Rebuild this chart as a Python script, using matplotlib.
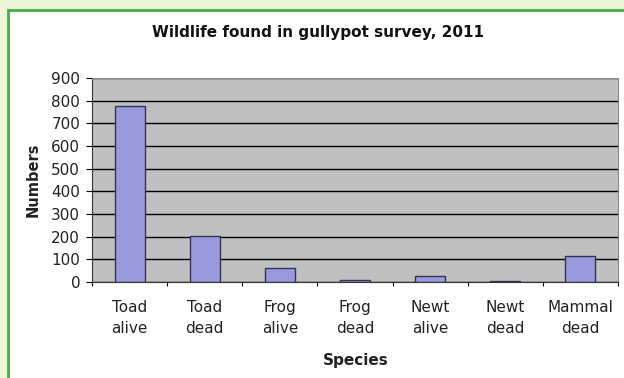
import matplotlib.pyplot as plt
from matplotlib.patches import Rectangle
import numpy as np

plt.rcParams['font.family'] = ['DejaVu Sans']

species = ["Toad\nalive", "Toad\ndead", "Frog\nalive", "Frog\ndead",
           "Newt\nalive", "Newt\ndead", "Mammal\ndead"]
numbers = [775, 205, 60, 8, 28, 3, 115]

fig = plt.figure(figsize=(6.24, 3.78), dpi=100)
fig.patch.set_facecolor("#eef4d6")

# white panel with green border, behind the axes
panel = Rectangle((8 / 624, -0.05), 1.0, 1 - 10 / 378 + 0.05, transform=fig.transFigure,
                  facecolor="white", edgecolor="#4aaa48", linewidth=2, zorder=-5)
fig.patches.append(panel)

ax = fig.add_axes([92 / 624, 1 - 282 / 378, (618 - 92) / 624, (282 - 78) / 378])
ax.set_facecolor("#c0c0c0")

x = np.arange(len(species))
ax.bar(x, numbers, width=0.4, color="#9999dd", edgecolor="#333355", linewidth=1, zorder=3)

ax.set_xlim(-0.5, len(species) - 0.5)
ax.set_ylim(0, 900)
ax.set_yticks(range(0, 901, 100))
ax.yaxis.grid(True, color="black", linewidth=1)
ax.set_axisbelow(True)

ax.set_xticks(np.arange(-0.5, len(species), 1))
ax.set_xticklabels([])
ax.set_xticks(x, minor=True)
ax.set_xticklabels(species, minor=True, fontsize=11, color="#222222", linespacing=1.5)
ax.tick_params(axis="x", which="minor", length=0, pad=13)
ax.tick_params(axis="x", which="major", length=3, direction="out")
ax.tick_params(axis="y", labelsize=11, length=4.5, pad=4, labelcolor="#222222")

for s in ["top", "right"]:
    ax.spines[s].set_color("#888888")
for s in ["left", "bottom"]:
    ax.spines[s].set_color("#333333")

fig.text(356 / 624, 1 - 360 / 378, "Species", ha="center", va="center",
         fontsize=11, fontweight="bold", color="#222222")
fig.text(33 / 624, 1 - 180 / 378, "Numbers", ha="center", va="center", rotation=90,
         fontsize=10.5, fontweight="bold", color="#222222")
fig.text(318 / 624, 1 - 33 / 378, "Wildlife found in gullypot survey, 2011",
         ha="center", va="center", fontsize=11, fontweight="bold", color="#111111")

fig.savefig("out.png", dpi=100, facecolor=fig.get_facecolor())
